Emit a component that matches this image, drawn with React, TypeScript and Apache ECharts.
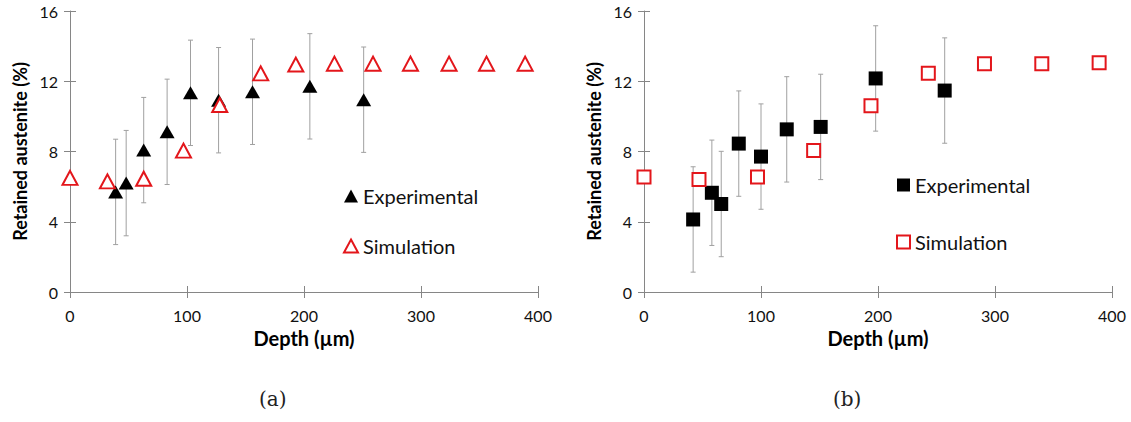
import React, { useEffect, useRef } from "react";
import * as echarts from "echarts";

// ---- data ----
const xTickValues = [0, 100, 200, 300, 400];
const yTickValues = [0, 4, 8, 12, 16];

// (a) triangles
const expDepthA = [39, 48, 63, 83, 103, 127, 156, 205, 251];
const expValueA = [5.7, 6.2, 8.08, 9.12, 11.34, 10.92, 11.4, 11.71, 10.95];
const expErrA = [3, 3, 3, 3, 3, 3, 3, 3, 3];
const simDepthA = [0, 32, 63, 97, 128, 163, 193, 226, 259, 291, 324, 356, 389];
const simValueA = [6.5, 6.3, 6.45, 8.05, 10.65, 12.45, 12.95, 13.0, 13.0, 13.0, 13.0, 13.0, 13.0];

// (b) squares
const expDepthB = [42, 58, 66, 81, 100, 122, 151, 198, 257];
const expValueB = [4.13, 5.65, 5.01, 8.45, 7.71, 9.26, 9.4, 12.16, 11.47];
const expErrB = [3, 3, 3, 3, 3, 3, 3, 3, 3];
const simDepthB = [0, 47, 97, 145, 194, 243, 291, 340, 389];
const simValueB = [6.55, 6.4, 6.55, 8.05, 10.6, 12.45, 13.0, 13.0, 13.05];

const captions = ["(a)", "(b)"];
const xTitle = "Depth (\u00b5m)";
const yTitle = "Retained austenite (%)";

const FONT = "Lato, 'Open Sans', sans-serif";
const AXIS_GREY = "#868686";
const ERR_GREY = "#a0a0a0";

function errorRenderItem(params: any, api: any) {
  const x = api.value(0);
  const lo = api.value(1);
  const hi = api.value(2);
  const top = api.coord([x, hi]);
  const bot = api.coord([x, lo]);
  const cap = 2.5;
  const style = { stroke: ERR_GREY, lineWidth: 1 };
  return {
    type: "group",
    children: [
      { type: "line", shape: { x1: top[0], y1: top[1], x2: bot[0], y2: bot[1] }, style },
      { type: "line", shape: { x1: top[0] - cap, y1: top[1], x2: top[0] + cap, y2: top[1] }, style },
      { type: "line", shape: { x1: bot[0] - cap, y1: bot[1], x2: bot[0] + cap, y2: bot[1] }, style },
    ],
  };
}

function makeX(gridIndex: number, main: boolean) {
  return {
    type: "value",
    gridIndex,
    min: xTickValues[0],
    max: xTickValues[xTickValues.length - 1],
    interval: xTickValues[1] - xTickValues[0],
    position: "bottom",
    name: main ? xTitle : "",
    nameLocation: "middle",
    nameGap: 36,
    nameTextStyle: { fontFamily: FONT, fontWeight: "bold", fontSize: 20, color: "#000" },
    axisLine: { show: main, onZero: false, lineStyle: { color: AXIS_GREY, width: 1 } },
    axisTick: { show: true, inside: !main, length: 6, lineStyle: { color: AXIS_GREY, width: 1 } },
    axisLabel: { show: main, fontFamily: FONT, fontSize: 16, color: "#111", margin: 15 },
    splitLine: { show: false },
  };
}

function makeY(gridIndex: number, main: boolean) {
  return {
    type: "value",
    gridIndex,
    min: yTickValues[0],
    max: yTickValues[yTickValues.length - 1],
    interval: yTickValues[1] - yTickValues[0],
    position: "left",
    name: main ? yTitle : "",
    nameLocation: "middle",
    nameGap: 41,
    nameRotate: 90,
    nameTextStyle: { fontFamily: FONT, fontWeight: "bold", fontSize: 18, color: "#000" },
    axisLine: { show: main, onZero: false, lineStyle: { color: AXIS_GREY, width: 1 } },
    axisTick: { show: true, inside: !main, length: 6, lineStyle: { color: AXIS_GREY, width: 1 } },
    axisLabel: { show: main, fontFamily: FONT, fontSize: 16, color: "#111", margin: 12 },
    splitLine: { show: false },
  };
}

function zip2(a: number[], b: number[]) {
  return a.map((v, i) => [v, b[i]]);
}
function errData(d: number[], v: number[], e: number[]) {
  return d.map((x, i) => [x, v[i] - e[i], v[i] + e[i]]);
}

export default function App() {
  const ref = useRef<HTMLDivElement>(null);
  useEffect(() => {
    document.body.style.margin = "0";
    const chart = echarts.init(ref.current!, null, { renderer: "svg" });
    const option: any = {
      animation: false,
      backgroundColor: "#fff",
      grid: [
        { left: 70, top: 11, width: 468, height: 281 },
        { left: 644, top: 11, width: 468, height: 281 },
      ],
      xAxis: [makeX(0, true), makeX(0, false), makeX(1, true), makeX(1, false)],
      yAxis: [makeY(0, true), makeY(0, false), makeY(1, true), makeY(1, false)],
      legend: [
        {
          orient: "vertical",
          left: 338,
          top: 181,
          itemWidth: 14,
          itemHeight: 13,
          itemGap: 30,
          textStyle: { fontFamily: FONT, fontSize: 20, color: "#111", lineHeight: 20 },
          data: ["Experimental", "Simulation"],
        },
        {
          orient: "vertical",
          left: 891,
          top: 170,
          itemWidth: 13,
          itemHeight: 13,
          itemGap: 37,
          textStyle: { fontFamily: FONT, fontSize: 20, color: "#111", lineHeight: 20 },
          data: ["Experimental (b)", "Simulation (b)"],
          formatter: (name: string) => name.replace(" (b)", ""),
        },
      ],
      graphic: [
        {
          type: "text",
          left: 273 - 14,
          top: 389,
          style: { text: captions[0], font: "20px 'DejaVu Serif', serif", fill: "#222" },
        },
        {
          type: "text",
          left: 847 - 14,
          top: 389,
          style: { text: captions[1], font: "20px 'DejaVu Serif', serif", fill: "#222" },
        },
      ],
      series: [
        {
          type: "custom",
          name: "errA",
          xAxisIndex: 0,
          yAxisIndex: 0,
          renderItem: errorRenderItem,
          encode: { x: 0, y: [1, 2] },
          data: errData(expDepthA, expValueA, expErrA),
          z: 1,
        },
        {
          type: "scatter",
          name: "Experimental",
          xAxisIndex: 0,
          yAxisIndex: 0,
          symbol: "triangle",
          symbolSize: [15, 13],
          itemStyle: { color: "#000", opacity: 1 },
          data: zip2(expDepthA, expValueA),
          z: 3,
        },
        {
          type: "scatter",
          name: "Simulation",
          xAxisIndex: 0,
          yAxisIndex: 0,
          symbol: "triangle",
          symbolSize: [15, 14],
          itemStyle: { color: "#fff", borderColor: "#e3161b", borderWidth: 2, opacity: 1 },
          data: zip2(simDepthA, simValueA),
          z: 4,
        },
        {
          type: "custom",
          name: "errB",
          xAxisIndex: 2,
          yAxisIndex: 2,
          renderItem: errorRenderItem,
          encode: { x: 0, y: [1, 2] },
          data: errData(expDepthB, expValueB, expErrB),
          z: 1,
        },
        {
          type: "scatter",
          name: "Experimental (b)",
          xAxisIndex: 2,
          yAxisIndex: 2,
          symbol: "rect",
          symbolSize: 14,
          itemStyle: { color: "#000", opacity: 1 },
          data: zip2(expDepthB, expValueB),
          z: 3,
        },
        {
          type: "scatter",
          name: "Simulation (b)",
          xAxisIndex: 2,
          yAxisIndex: 2,
          symbol: "rect",
          symbolSize: 13,
          itemStyle: { color: "#fff", borderColor: "#e3161b", borderWidth: 2, opacity: 1 },
          data: zip2(simDepthB, simValueB),
          z: 4,
        },
      ],
    };
    chart.setOption(option);
    return () => chart.dispose();
  }, []);
  return (
    <div
      ref={ref}
      style={{ position: "absolute", left: 0, top: 0, width: 1131, height: 422 }}
    />
  );
}
